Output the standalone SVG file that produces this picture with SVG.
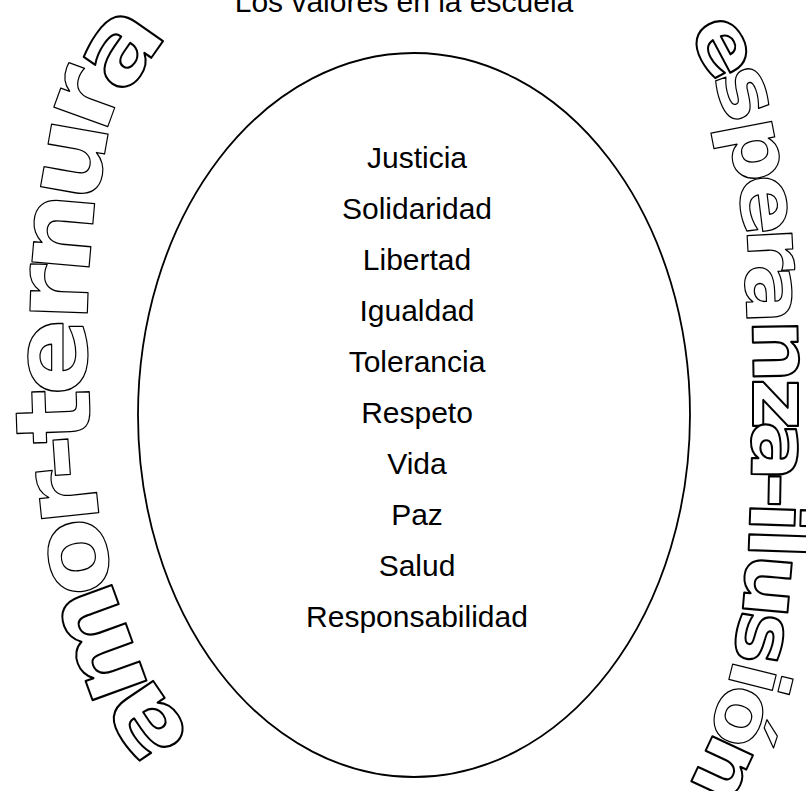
<svg xmlns="http://www.w3.org/2000/svg" width="806" height="791" viewBox="0 0 806 791">
<style>
.t{font-family:"Liberation Sans",Arial,sans-serif;font-size:30px;fill:#000;text-anchor:middle}
.L{font-family:"DejaVu Sans",Verdana,sans-serif;font-weight:bold;font-size:105px;fill:#fff;stroke:#000;stroke-width:1.2;text-anchor:middle;stroke-linejoin:round}
.R{font-family:"DejaVu Sans",Verdana,sans-serif;font-weight:bold;font-size:82px;fill:#fff;stroke:#000;stroke-width:1.2;text-anchor:middle;stroke-linejoin:round}
.k{stroke-width:2}
</style>
<rect width="806" height="791" fill="#fff"/>
<g id="title"><text class="t" x="404" y="12">Los valores en la escuela</text></g>
<g id="oval"><ellipse cx="414" cy="415" rx="276" ry="362" fill="none" stroke="#000" stroke-width="1.8"/></g>
<g id="values">
<text class="t" x="417" y="168">Justicia</text>
<text class="t" x="417" y="219">Solidaridad</text>
<text class="t" x="417" y="270">Libertad</text>
<text class="t" x="417" y="321">Igualdad</text>
<text class="t" x="417" y="372">Tolerancia</text>
<text class="t" x="417" y="423">Respeto</text>
<text class="t" x="417" y="474">Vida</text>
<text class="t" x="417" y="525">Paz</text>
<text class="t" x="417" y="576">Salud</text>
<text class="t" x="417" y="627">Responsabilidad</text>
</g>
<g id="amor-ternura">
<text class="L k" transform="translate(146 722) rotate(-124) scale(1.1 1)" y="29">a</text>
<text class="L k" transform="translate(102 643) rotate(-110) scale(1.1 1)" y="29">m</text>
<text class="L" transform="translate(78 557) rotate(-100) scale(1.1 1)" y="29">o</text>
<text class="L" transform="translate(68 497) rotate(-96) scale(1.1 1)" y="29">r</text>
<text class="L" transform="translate(63 457) rotate(-94) scale(1.1 1)" y="29">-</text>
<text class="L" transform="translate(61 416) rotate(-92) scale(1.1 1)" y="29">t</text>
<text class="L" transform="translate(58 357) rotate(-90) scale(1.1 1)" y="29">e</text>
<text class="L" transform="translate(59 293) rotate(-88) scale(1.1 1)" y="29">r</text>
<text class="L" transform="translate(63 233) rotate(-85) scale(1.1 1)" y="29">n</text>
<text class="L" transform="translate(74 160) rotate(-80) scale(1.1 1)" y="29">u</text>
<text class="L" transform="translate(87 99) rotate(-70) scale(1.1 1)" y="29">r</text>
<text class="L k" transform="translate(122 49) rotate(-55) scale(1.1 1)" y="29">a</text>
</g>
<g id="esperanza-ilusion">
<text class="R k" transform="translate(721 48) rotate(62) scale(1.1 1)" y="22">e</text>
<text class="R" transform="translate(742 94) rotate(70) scale(1.1 1)" y="22">s</text>
<text class="R" transform="translate(754 150) rotate(79) scale(1.1 1)" y="22">p</text>
<text class="R" transform="translate(763 205) rotate(83) scale(1.1 1)" y="22">e</text>
<text class="R" transform="translate(770 249) rotate(87) scale(1.1 1)" y="22">r</text>
<text class="R" transform="translate(768 294) rotate(88) scale(1.1 1)" y="22">a</text>
<text class="R k" transform="translate(775 351) rotate(89) scale(1.1 1)" y="22">n</text>
<text class="R k" transform="translate(775 404) rotate(90) scale(1.1 1)" y="22">z</text>
<text class="R k" transform="translate(774 451) rotate(91) scale(1.1 1)" y="22">a</text>
<text class="R k" transform="translate(773 490) rotate(91) scale(1.1 1)" y="22">-</text>
<text class="R k" transform="translate(772 517) rotate(92) scale(1.1 1)" y="22">i</text>
<text class="R k" transform="translate(771 543) rotate(92) scale(1.1 1)" y="22">l</text>
<text class="R k" transform="translate(767 586) rotate(95) scale(1.1 1)" y="22">u</text>
<text class="R k" transform="translate(759 638) rotate(99) scale(1.1 1)" y="22">s</text>
<text class="R" transform="translate(752 677) rotate(104) scale(1.1 1)" y="22">i</text>
<text class="R" transform="translate(738 716) rotate(108) scale(1.1 1)" y="22">ó</text>
<text class="R k" transform="translate(722 768) rotate(115) scale(1.1 1)" y="22">n</text>
</g>
</svg>
